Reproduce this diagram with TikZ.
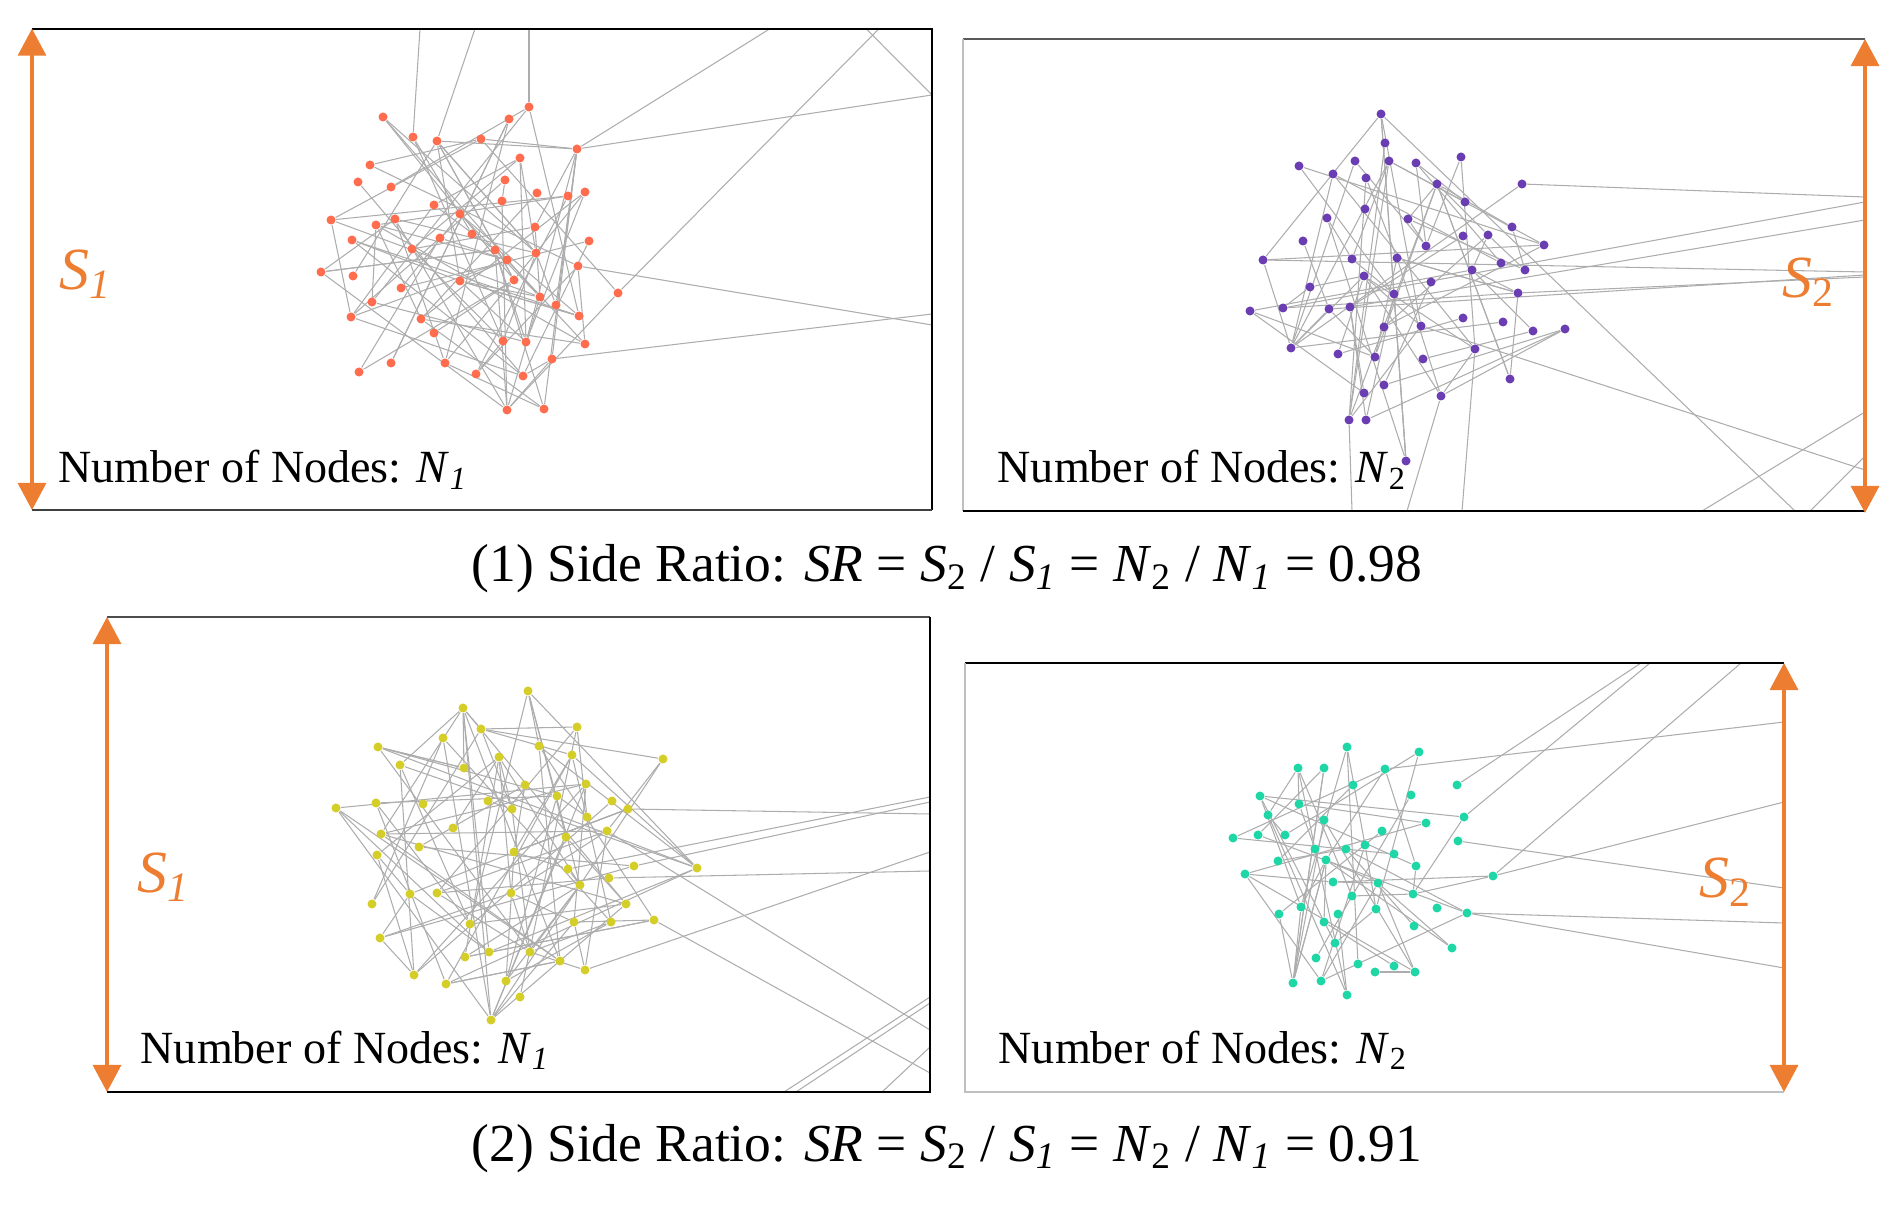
\documentclass[tikz,border=0pt]{standalone}
\usepackage{fontspec}
\setmainfont{Liberation Serif}
\usetikzlibrary{arrows.meta,backgrounds}
\definecolor{pfeil}{RGB}{237,125,49}
\definecolor{knotA}{RGB}{255,108,78}
\definecolor{knotB}{RGB}{106,61,178}
\definecolor{knotC}{RGB}{214,206,40}
\definecolor{knotD}{RGB}{30,214,166}
\tikzset{
	kante/.style={draw=black!32, line width=0.3pt},
	punktA/.style={circle, fill=knotA, inner sep=0pt, minimum size=0.09cm},
	punktB/.style={circle, fill=knotB, inner sep=0pt, minimum size=0.09cm},
	punktC/.style={circle, fill=knotC, inner sep=0pt, minimum size=0.09cm},
	punktD/.style={circle, fill=knotD, inner sep=0pt, minimum size=0.09cm},
	rahmen/.style={line width=0.6pt},
	seite/.style={draw=pfeil, line width=0.9pt,
		{Triangle[length=0.27cm,width=0.28cm]}-{Triangle[length=0.27cm,width=0.28cm]}},
	seitentext/.style={text=pfeil, font=\fontsize{17}{20}\selectfont},
	anzahl/.style={anchor=base west, inner sep=0pt, font=\fontsize{13.1}{15}\selectfont},
	titel/.style={anchor=base, inner sep=0pt, font=\fontsize{15.2}{18}\selectfont}
}
\newcommand{\idx}[2]{\textit{#1}\textsubscript{#2}}
\begin{document}
\begin{tikzpicture}[x=0.01cm, y=-0.01cm]
	\useasboundingbox (0,0) rectangle (1897,1210);
	\pgfmathsetseed{17}
	% Rahmen
	\draw[rahmen, black] (32,28.7) -- (932,28.7) -- (932,510);
	\draw[rahmen, black!75] (32,510) -- (932,510);
	\draw[rahmen, black!65] (963,39) -- (1865,39);
	\draw[rahmen, black!25] (963,39) -- (963,511);
	\draw[rahmen, black] (963,511) -- (1865,511);
	\draw[rahmen, black!70] (107,617) -- (930,617);
	\draw[rahmen, black] (930,617) -- (930,1092) -- (107,1092);
	\draw[rahmen, black] (965,663) -- (1784,663);
	\draw[rahmen, black!25] (965,663) -- (965,1092) -- (1784,1092);
	% Knoten oben links
	\foreach \x/\y [count=\i] in {383/117, 529/107, 509/119, 413/137, 437/141,
		481/139, 577/149, 520/158, 370/165, 358/182, 391/187, 505/180, 537/193,
		568/196, 585/192, 502/201, 434/205, 460/214, 331/220, 376/225, 395/219,
		535/227, 472/234, 440/238, 352/240, 589/241, 412/249, 495/250, 536/253,
		507/260, 578/266, 321/272, 353/276, 460/281, 514/280, 401/288, 618/293,
		540/297, 372/302, 556/305, 351/317, 421/319, 579/316, 434/333, 503/341,
		526/342, 585/344, 552/359, 359/372, 391/363, 445/363, 476/374, 523/376,
		507/410, 544/409}
		\node[punktA] (a\i) at (\x,\y) {};
	% Knoten oben rechts
	\foreach \x/\y [count=\i] in {1381/114, 1385/143, 1299/166, 1355/161,
		1389/161, 1416/163, 1461/157, 1333/174, 1366/178, 1437/184, 1522/184,
		1465/202, 1365/209, 1327/218, 1408/219, 1512/227, 1463/236, 1488/235,
		1303/241, 1426/246, 1544/245, 1263/260, 1352/259, 1397/258, 1501/263,
		1472/270, 1525/270, 1364/276, 1431/282, 1310/287, 1394/294, 1518/293,
		1250/311, 1283/308, 1329/309, 1350/307, 1463/318, 1503/322, 1384/327,
		1421/326, 1533/331, 1565/329, 1291/348, 1338/354, 1375/357, 1423/359,
		1475/349, 1510/379, 1384/385, 1364/393, 1441/396, 1349/420, 1366/420,
		1406/461}
		\node[punktB] (b\i) at (\x,\y) {};
	% Knoten unten links
	\foreach \x/\y [count=\i] in {528/691, 463/708, 481/729, 577/727, 443/738,
		378/747, 539/746, 499/757, 572/755, 663/759, 400/765, 464/768, 525/785,
		586/784, 557/796, 336/808, 376/803, 423/804, 488/801, 512/809, 612/801,
		628/809, 587/817, 453/828, 381/834, 607/831, 566/837, 419/847, 377/855,
		514/852, 634/866, 697/868, 568/869, 609/878, 580/885, 410/894, 437/893,
		511/893, 372/904, 626/904, 470/924, 574/922, 611/922, 654/920, 380/938,
		465/957, 489/952, 530/952, 560/961, 585/970, 414/975, 446/984, 506/981,
		520/997, 491/1020}
		\node[punktC] (c\i) at (\x,\y) {};
	% Knoten unten rechts
	\foreach \x/\y [count=\i] in {1347/747, 1419/752, 1298/768, 1324/768,
		1385/769, 1353/785, 1457/785, 1260/796, 1411/795, 1299/804, 1268/815,
		1464/817, 1324/820, 1426/823, 1382/831, 1233/838, 1258/835, 1285/835,
		1458/841, 1365/845, 1315/849, 1346/849, 1394/854, 1326/860, 1278/861,
		1416/866, 1245/874, 1493/876, 1333/882, 1378/883, 1352/896, 1413/894,
		1301/907, 1437/908, 1279/914, 1376/909, 1467/913, 1338/914, 1324/922,
		1414/926, 1335/943, 1452/948, 1316/958, 1358/964, 1394/966, 1375/972,
		1415/972, 1293/983, 1321/981, 1347/995}
		\node[punktD] (d\i) at (\x,\y) {};
	% Randpunkte
	\coordinate (ra1) at (770,28.7);
	\coordinate (ra2) at (932,95);
	\coordinate (ra3) at (879,28.7);
	\coordinate (ra4) at (866,28.7);
	\coordinate (ra5) at (932,325);
	\coordinate (ra6) at (932,314);
	\coordinate (ra7) at (420,28.7);
	\coordinate (ra8) at (475,28.7);
	\coordinate (ra9) at (529,28.7);
	\coordinate (rb1) at (1865,197);
	\coordinate (rb2) at (1865,202);
	\coordinate (rb3) at (1865,220);
	\coordinate (rb4) at (1865,272);
	\coordinate (rb5) at (1865,277);
	\coordinate (rb6) at (1865,275);
	\coordinate (rb7) at (1795,511);
	\coordinate (rb8) at (1865,470);
	\coordinate (rb9) at (1352,511);
	\coordinate (rb10) at (1407,511);
	\coordinate (rb11) at (1462,511);
	\coordinate (rb12) at (1702,511);
	\coordinate (rb13) at (1865,412);
	\coordinate (rb14) at (1810,511);
	\coordinate (rb15) at (1865,456);
	\coordinate (rc1) at (930,814);
	\coordinate (rc2) at (930,797);
	\coordinate (rc3) at (930,802);
	\coordinate (rc4) at (930,871);
	\coordinate (rc5) at (930,852);
	\coordinate (rc6) at (930,1030);
	\coordinate (rc7) at (930,1073);
	\coordinate (rc8) at (784,1092);
	\coordinate (rc9) at (930,997);
	\coordinate (rc10) at (796,1092);
	\coordinate (rc11) at (930,1003);
	\coordinate (rc12) at (882,1092);
	\coordinate (rc13) at (930,1047);
	\coordinate (rd1) at (1784,722);
	\coordinate (rd2) at (1784,802);
	\coordinate (rd3) at (1784,888);
	\coordinate (rd4) at (1784,923);
	\coordinate (rd5) at (1784,968);
	\coordinate (rd6) at (1741,663);
	\coordinate (rd7) at (1650,663);
	\coordinate (rd8) at (1641,663);
	% Kanten
	\begin{scope}[on background layer]
		\foreach \k in {1,...,100} {
			\pgfmathtruncatemacro{\p}{random(1,55)}
			\pgfmathtruncatemacro{\q}{random(1,55)}
			\draw[kante] (a\p) -- (a\q);
		}
		\foreach \k in {1,...,80} {
			\pgfmathtruncatemacro{\p}{random(1,54)}
			\pgfmathtruncatemacro{\q}{random(1,54)}
			\draw[kante] (b\p) -- (b\q);
		}
		\foreach \k in {1,...,110} {
			\pgfmathtruncatemacro{\p}{random(1,55)}
			\pgfmathtruncatemacro{\q}{random(1,55)}
			\draw[kante] (c\p) -- (c\q);
		}
		\foreach \k in {1,...,65} {
			\pgfmathtruncatemacro{\p}{random(1,50)}
			\pgfmathtruncatemacro{\q}{random(1,50)}
			\draw[kante] (d\p) -- (d\q);
		}
		% Kanten nach aussen
		\draw[kante] (a7) -- (ra1);
		\draw[kante] (a7) -- (ra2);
		\draw[kante] (a37) -- (ra3);
		\draw[kante] (ra4) -- (ra2);
		\draw[kante] (a31) -- (ra5);
		\draw[kante] (a48) -- (ra6);
		\draw[kante] (a4) -- (ra7);
		\draw[kante] (a5) -- (ra8);
		\draw[kante] (a2) -- (ra9);
		\draw[kante] (b11) -- (rb1);
		\draw[kante] (b34) -- (rb2);
		\draw[kante] (b36) -- (rb3);
		\draw[kante] (b22) -- (rb4);
		\draw[kante] (b32) -- (rb5);
		\draw[kante] (b35) -- (rb6);
		\draw[kante] (b1) -- (rb7);
		\draw[kante] (b40) -- (rb8);
		\draw[kante] (b52) -- (rb9);
		\draw[kante] (b51) -- (rb10);
		\draw[kante] (b47) -- (rb11);
		\draw[kante] (rb12) -- (rb13);
		\draw[kante] (rb14) -- (rb15);
		\draw[kante] (c22) -- (rc1);
		\draw[kante] (c33) -- (rc2);
		\draw[kante] (c31) -- (rc3);
		\draw[kante] (c34) -- (rc4);
		\draw[kante] (c50) -- (rc5);
		\draw[kante] (c26) -- (rc6);
		\draw[kante] (c44) -- (rc7);
		\draw[kante] (rc8) -- (rc9);
		\draw[kante] (rc10) -- (rc11);
		\draw[kante] (rc12) -- (rc13);
		\draw[kante] (d5) -- (rd1);
		\draw[kante] (d28) -- (rd2);
		\draw[kante] (d19) -- (rd3);
		\draw[kante] (d37) -- (rd4);
		\draw[kante] (d37) -- (rd5);
		\draw[kante] (d28) -- (rd6);
		\draw[kante] (d12) -- (rd7);
		\draw[kante] (d7) -- (rd8);
	\end{scope}
	% Seitenpfeile
	\coordinate (sa1) at (32,28.7);
	\coordinate (sa2) at (32,510);
	\coordinate (sb1) at (1865,39);
	\coordinate (sb2) at (1865,513);
	\coordinate (sc1) at (107,617);
	\coordinate (sc2) at (107,1092);
	\coordinate (sd1) at (1784,663);
	\coordinate (sd2) at (1784,1092);
	\draw[seite] (sa1) -- (sa2);
	\draw[seite] (sb1) -- (sb2);
	\draw[seite] (sc1) -- (sc2);
	\draw[seite] (sd1) -- (sd2);
	\node[seitentext] (la) at (86,274) {\idx{S}{\textit{1}}};
	\node[seitentext] (lb) at (1809,282) {\idx{S}{2}};
	\node[seitentext] (lc) at (164,877) {\idx{S}{\textit{1}}};
	\node[seitentext] (ld) at (1726,882) {\idx{S}{2}};
	% Beschriftungen
	\node[anzahl] (na) at (58,483) {Number of Nodes: \idx{N}{\textit{1}}};
	\node[anzahl] (nb) at (997,483) {Number of Nodes: \idx{N}{2}};
	\node[anzahl] (nc) at (140,1063) {Number of Nodes: \idx{N}{\textit{1}}};
	\node[anzahl] (nd) at (998,1063) {Number of Nodes: \idx{N}{2}};
	\node[titel] (ta) at (947,582) {(1) Side Ratio: \textit{SR} = \idx{S}{2} / \idx{S}{\textit{1}} = \idx{N}{2} / \idx{N}{\textit{1}} = 0.98};
	\node[titel] (tb) at (947,1161) {(2) Side Ratio: \textit{SR} = \idx{S}{2} / \idx{S}{\textit{1}} = \idx{N}{2} / \idx{N}{\textit{1}} = 0.91};
\end{tikzpicture}
\end{document}
